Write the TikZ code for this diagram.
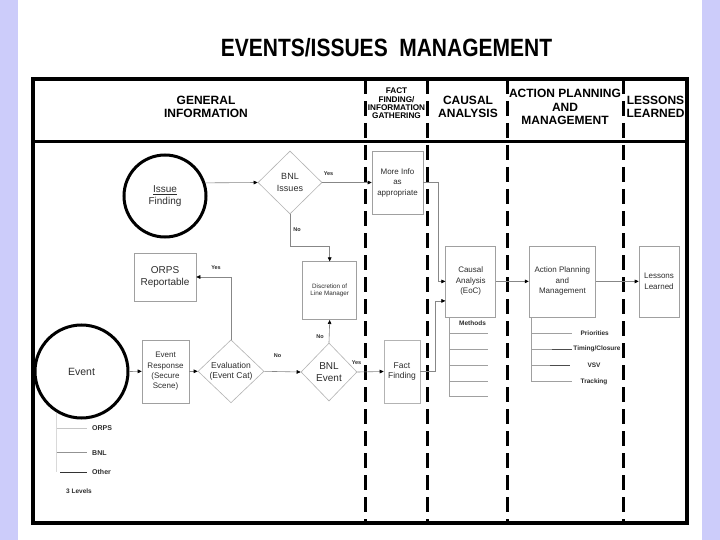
\documentclass[tikz,border=0pt]{standalone}
\usepackage{fontspec}
\setmainfont{Liberation Sans}
\usetikzlibrary{shapes.geometric,arrows.meta,calc}
\definecolor{lav}{RGB}{204,204,250}
\definecolor{lineg}{RGB}{135,135,135}
\definecolor{boxg}{RGB}{160,160,160}
\definecolor{txtg}{RGB}{45,45,45}
\begin{document}
\begin{tikzpicture}[x=1pt,y=-1pt,
  boxn/.style={draw=boxg, line width=0.6pt, inner sep=0pt, align=center, text=txtg,
    font=\fontsize{8}{10.5}\selectfont},
  dia/.style={diamond, draw=boxg!80, line width=0.6pt, inner sep=0pt, align=center, text=txtg},
  ring/.style={circle, draw=black, line width=3pt, inner sep=0pt, align=center, text=txtg},
  conn/.style={draw=lineg, line width=0.6pt, -{Triangle[length=4pt,width=3.6pt,color=black]}},
  sub/.style={draw=boxg, line width=0.6pt},
  dk/.style={draw=black!70, line width=0.7pt},
  lane/.style={line width=3pt, dash pattern=on 15pt off 7pt},
  hdr/.style={font=\fontsize{12}{13.6}\selectfont\bfseries, align=center},
  lbl/.style={font=\fontsize{5.5}{6}\selectfont\bfseries, text=txtg, inner sep=0pt},
  sml/.style={font=\fontsize{6.5}{7}\selectfont\bfseries, text=txtg, inner sep=0pt},
  leg/.style={font=\fontsize{7}{8}\selectfont\bfseries, text=txtg, inner sep=0pt, anchor=west}
]
\useasboundingbox (0,0) rectangle (720,540);
\fill[lav] (0,0) rectangle (720,540);
\fill[white] (18,0) rectangle (702,540);

% title
\node[anchor=base, inner sep=0pt] (title) at (386.5,56.5)
  {\scalebox{0.84}[1]{\fontsize{25}{25}\selectfont\bfseries EVENTS/ISSUES\hspace{0.55em}MANAGEMENT}};

% frame, header line and lanes
\draw[line width=3.5pt] (33,79) rectangle (687,523);
\draw[line width=3pt] (33,141.5) -- (687,141.5);
\foreach \x in {365,427.5,507.5,623} \draw[lane] (\x,79) -- (\x,523);

% header texts
\node[hdr] (hgen) at (206,107) {GENERAL\\INFORMATION};
\node[align=center, font=\fontsize{8.2}{8.4}\selectfont\bfseries, inner sep=0pt] (hfact) at (396.5,103.5)
  {FACT\\FINDING/\\INFORMATION\\GATHERING};
\node[hdr] (hcaus) at (468,107) {CAUSAL\\ANALYSIS};
\node[hdr, font=\fontsize{12}{13.3}\selectfont\bfseries] (hact) at (565,107) {ACTION PLANNING\\AND\\MANAGEMENT};
\node[hdr] (hles) at (655.5,107) {LESSONS\\LEARNED};

% nodes
\node[ring, minimum size=82pt, font=\fontsize{10}{12}\selectfont] (issue) at (165,196) {\underline{Issue}\\Finding};
\node[dia, minimum width=64pt, minimum height=63pt, font=\fontsize{9}{12.5}\selectfont] (bnlI) at (290,182.5) {BNL\\Issues};
\node[boxn, minimum width=51pt, minimum height=63pt] (more) at (397.5,182.5) {More Info\\as\\appropriate};
\node[boxn, minimum width=54pt, minimum height=58pt, font=\fontsize{6.3}{7}\selectfont] (disc) at (329.7,290.7) {Discretion of\\Line Manager};
\node[boxn, minimum width=62pt, minimum height=48pt, font=\fontsize{10}{11.5}\selectfont] (orps) at (165,277) {ORPS\\Reportable};
\node[ring, minimum size=93pt, font=\fontsize{10.5}{12}\selectfont] (event) at (81.5,371.5) {Event};
\node[boxn, minimum width=47pt, minimum height=63pt, font=\fontsize{8}{10.3}\selectfont] (resp) at (165.5,371.3) {Event\\Response\\(Secure\\Scene)};
\node[dia, minimum width=66pt, minimum height=63pt, font=\fontsize{8.5}{10.3}\selectfont] (eval) at (231,371.3) {Evaluation\\(Event Cat)};
\node[dia, minimum width=56pt, minimum height=58pt, font=\fontsize{10}{11.6}\selectfont] (bnlE) at (329,372) {BNL\\Event};
\node[boxn, draw=boxg!80, minimum width=36pt, minimum height=63pt, font=\fontsize{8.5}{10.7}\selectfont] (ff) at (402,371.5) {Fact\\Finding};
\node[boxn, minimum width=50pt, minimum height=71pt] (causal) at (470.7,281.4) {Causal\\Analysis\\(EoC)};
\node[boxn, minimum width=66.7pt, minimum height=71pt] (action) at (562.4,281.4) {Action Planning\\and\\Management};
\node[boxn, minimum width=40pt, minimum height=71pt] (lessons) at (659,281.4) {Lessons\\Learned};

% connectors
\draw[conn] (issue.18.5) -- (bnlI.west);
\draw[conn] (bnlI.east) -- (more.west);
\draw[conn] (bnlI.south) |- ($(disc.north)+(0,-15)$) -- (disc.north);
\draw[conn] (more.east) -- ++(14.5,0) |- (causal.west);
\draw[conn] (ff.east) -- ++(15,0) |- ($(causal.west)+(0,19.5)$);
\draw[conn] (causal.east) -- (action.west);
\draw[conn] (action.east) -- (lessons.west);
\draw[conn] (event.east) -- (resp.west);
\draw[conn] (resp.east) -- (eval.west);
\draw[conn] (eval.east) -- (bnlE.west);
\draw[conn] (eval.north) |- (orps.east);
\draw[conn] (bnlE.north) -- (disc.south);
\draw[conn] (bnlE.east) -- (ff.west);

% yes / no labels
\node[lbl] (y1) at (328.5,174) {Yes};
\node[lbl] (n1) at (297,229.5) {No};
\node[lbl] (y2) at (216,268) {Yes};
\node[lbl] (n2) at (277.5,356) {No};
\node[lbl] (n3) at (320,337) {No};
\node[lbl] (y3) at (356.5,363) {Yes};

% methods
\node[sml] (meth) at (472.5,323) {Methods};
\draw[sub] (449,317) -- (449,396.7);
\foreach \y in {333,349,365,381.7,396.7} \draw[sub] (449,\y) -- (488,\y);

% action sub-items
\draw[sub] (531.7,317) -- (531.7,381.7);
\draw[sub] (531.7,333) -- (571.7,333);
\draw[sub] (531.7,349) -- (571.7,349);
\draw[dk] (551.7,349) -- (571.7,349);
\draw[sub] (531.7,365) -- (570,365);
\draw[dk] (550,365) -- (570,365);
\draw[sub] (531.7,381.7) -- (571.7,381.7);
\node[sml] (pri) at (594.7,333) {Priorities};
\node[sml] (tim) at (597,349) {Timing/Closure};
\node[sml] (vsv) at (594,365) {VSV};
\node[sml] (trk) at (594,381.7) {Tracking};

% legend
\draw[draw=gray!30, line width=0.5pt] (56.7,413) -- (56.7,472.3);
\draw[draw=gray!45, line width=0.6pt] (56.7,428.3) -- (87.3,428.3);
\draw[draw=gray!85, line width=0.6pt] (56.7,452.7) -- (87.3,452.7);
\draw[draw=black!80, line width=0.6pt] (60,472.3) -- (87.3,472.3);
\node[leg] (lorps) at (92,428.3) {ORPS};
\node[leg] (lbnl) at (92,452.7) {BNL};
\node[leg] (loth) at (92,472.3) {Other};
\node[sml] (lev) at (79,491) {3 Levels};
\end{tikzpicture}
\end{document}
